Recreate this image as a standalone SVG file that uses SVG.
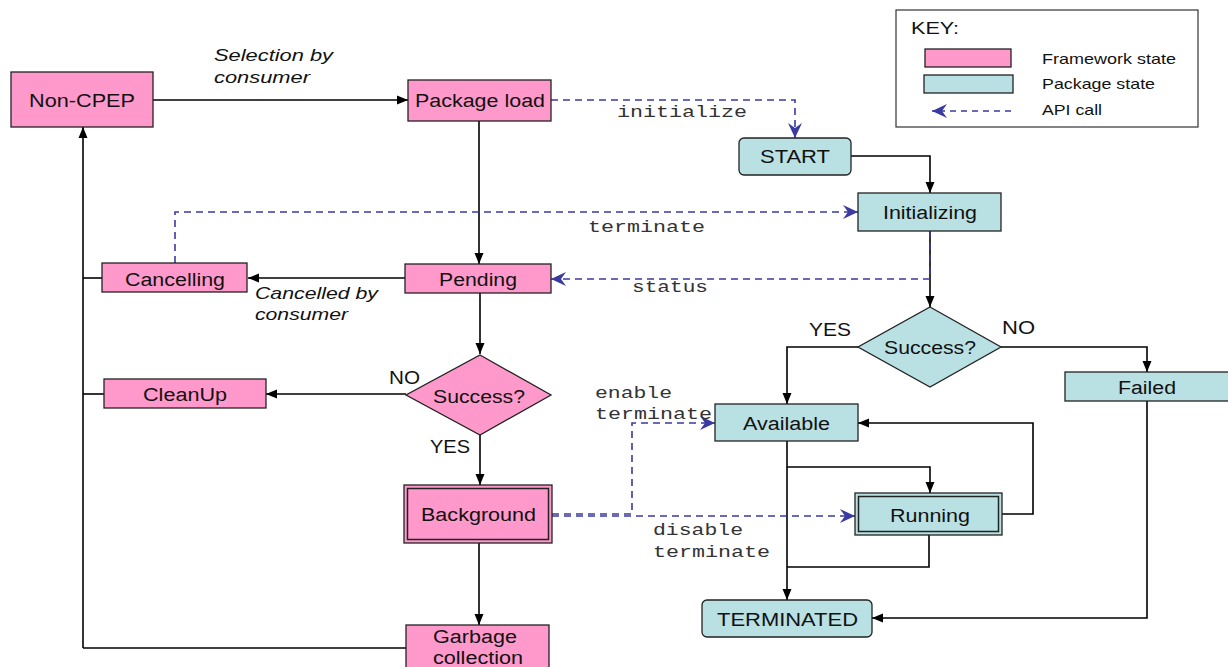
<svg xmlns="http://www.w3.org/2000/svg" width="1228" height="667" viewBox="0 0 1228 667">
<style>
text{font-family:"Liberation Sans",Arial,sans-serif;fill:#111}
.lbl{font-size:18px}
.it{font-size:17px;font-style:italic}
.mono{font-family:"Liberation Mono","Courier New",monospace;font-size:16px;fill:#333}
.key{font-size:15px}
.fw{fill:#FF99CC;stroke:#222;stroke-width:1.3}
.pk{fill:#B9E0E3;stroke:#222;stroke-width:1.3}
.ln{fill:none;stroke:#000;stroke-width:1.6}
.api{fill:none;stroke:#3A3AA0;stroke-width:1.6;stroke-dasharray:7,5}
</style>
<defs>
<marker id="ah" markerUnits="userSpaceOnUse" markerWidth="12" markerHeight="10" refX="11" refY="5" orient="auto">
<path d="M0,0.5 L11,5 L0,9.5 z" fill="#000"/>
</marker>
<marker id="ab" markerUnits="userSpaceOnUse" markerWidth="16" markerHeight="14" refX="15" refY="7" orient="auto">
<path d="M0,0 L15,7 L0,14 L5,7 z" fill="#3A3AA0"/>
</marker>
</defs>
<rect width="1228" height="667" fill="#fff"/>

<g id="key">
<rect x="896" y="10" width="302" height="117" fill="#fff" stroke="#333" stroke-width="1.2"/>
<text class="key" x="911" y="34" style="font-size:16px" textLength="48" lengthAdjust="spacingAndGlyphs">KEY:</text>
<rect class="fw" x="925" y="49" width="86" height="18"/>
<rect class="pk" x="924" y="75" width="89" height="18"/>
<path class="api" d="M1011,111 H932" marker-end="url(#ab)" style="stroke-dasharray:6,5"/>
<text class="key" x="1042" y="64" textLength="134" lengthAdjust="spacingAndGlyphs">Framework state</text>
<text class="key" x="1042" y="89" textLength="113" lengthAdjust="spacingAndGlyphs">Package state</text>
<text class="key" x="1042" y="115" textLength="60" lengthAdjust="spacingAndGlyphs">API call</text>
</g>

<g id="connectors">
<path class="ln" d="M153,100 H408" marker-end="url(#ah)"/>
<path class="ln" d="M479,121 V264" marker-end="url(#ah)"/>
<path class="ln" d="M405,278 H248" marker-end="url(#ah)"/>
<path class="ln" d="M102,278 H83"/>
<path class="ln" d="M83,648 V127" marker-end="url(#ah)"/>
<path class="ln" d="M104,394 H83"/>
<path class="ln" d="M480,293 V354" marker-end="url(#ah)"/>
<path class="ln" d="M406,394 H266" marker-end="url(#ah)"/>
<path class="ln" d="M480,435 V485" marker-end="url(#ah)"/>
<path class="ln" d="M479,543 V625" marker-end="url(#ah)"/>
<path class="ln" d="M406,648 H83"/>
<path class="ln" d="M851,156 H930 V193" marker-end="url(#ah)"/>
<path class="ln" d="M930,231 V307" marker-end="url(#ah)"/>
<path class="ln" d="M858,347 H787 V404" marker-end="url(#ah)"/>
<path class="ln" d="M1001,347 H1147 V372" marker-end="url(#ah)"/>
<path class="ln" d="M787,441 V600" marker-end="url(#ah)"/>
<path class="ln" d="M787,467 H930 V493" marker-end="url(#ah)"/>
<path class="ln" d="M1002,514 H1033 V423 H858" marker-end="url(#ah)"/>
<path class="ln" d="M929,535 V567 H787"/>
<path class="ln" d="M1147,401 V618 H872" marker-end="url(#ah)"/>

<path class="api" d="M551,100 H795 V138" marker-end="url(#ab)"/>
<path class="api" d="M175,263 V212 H858" marker-end="url(#ab)"/>
<path class="api" d="M930,231 V279 H551" marker-end="url(#ab)"/>
<path class="api" d="M552,514 H632 V423 H715" marker-end="url(#ab)"/>
<path class="api" d="M552,516 H855" marker-end="url(#ab)"/>

<text class="it" x="214" y="61" textLength="119" lengthAdjust="spacingAndGlyphs">Selection by</text>
<text class="it" x="214" y="83" textLength="96" lengthAdjust="spacingAndGlyphs">consumer</text>
<text class="it" x="255" y="299" textLength="123" lengthAdjust="spacingAndGlyphs">Cancelled by</text>
<text class="it" x="255" y="320" textLength="93" lengthAdjust="spacingAndGlyphs">consumer</text>
<text class="mono" x="617" y="117" textLength="130" lengthAdjust="spacingAndGlyphs">initialize</text>
<text class="mono" x="588" y="232" textLength="117" lengthAdjust="spacingAndGlyphs">terminate</text>
<text class="mono" x="632" y="292" textLength="76" lengthAdjust="spacingAndGlyphs">status</text>
<text class="mono" x="595" y="398" textLength="77" lengthAdjust="spacingAndGlyphs">enable</text>
<text class="mono" x="595" y="419" textLength="117" lengthAdjust="spacingAndGlyphs">terminate</text>
<text class="mono" x="653" y="535" textLength="90" lengthAdjust="spacingAndGlyphs">disable</text>
<text class="mono" x="653" y="557" textLength="117" lengthAdjust="spacingAndGlyphs">terminate</text>
<text class="lbl" x="389" y="384" textLength="31" lengthAdjust="spacingAndGlyphs">NO</text>
<text class="lbl" x="430" y="453" textLength="40" lengthAdjust="spacingAndGlyphs">YES</text>
<text class="lbl" x="809" y="336" textLength="42" lengthAdjust="spacingAndGlyphs">YES</text>
<text class="lbl" x="1002" y="334" textLength="33" lengthAdjust="spacingAndGlyphs">NO</text>
</g>

<g id="non-cpep">
<rect class="fw" x="11" y="72" width="142" height="55"/>
<text class="lbl" x="29" y="107" style="font-size:19px" textLength="106" lengthAdjust="spacingAndGlyphs">Non-CPEP</text>
</g>
<g id="package-load">
<rect class="fw" x="408" y="80" width="143" height="41"/>
<text class="lbl" x="415" y="107" textLength="130" lengthAdjust="spacingAndGlyphs">Package load</text>
</g>
<g id="cancelling">
<rect class="fw" x="102" y="263" width="145" height="29"/>
<text class="lbl" x="125" y="286" textLength="100" lengthAdjust="spacingAndGlyphs">Cancelling</text>
</g>
<g id="pending">
<rect class="fw" x="405" y="264" width="146" height="29"/>
<text class="lbl" x="439" y="286" textLength="78" lengthAdjust="spacingAndGlyphs">Pending</text>
</g>
<g id="cleanup">
<rect class="fw" x="104" y="379" width="162" height="29"/>
<text class="lbl" x="143" y="401" textLength="84" lengthAdjust="spacingAndGlyphs">CleanUp</text>
</g>
<g id="success-fw">
<polygon class="fw" points="480,355 551,395 480,435 406,395"/>
<text class="lbl" x="433" y="403" textLength="92" lengthAdjust="spacingAndGlyphs">Success?</text>
</g>
<g id="background">
<rect class="fw" x="404" y="485" width="148" height="58"/>
<rect x="407.5" y="488.5" width="141" height="51" fill="none" stroke="#222" stroke-width="1.5"/>
<text class="lbl" x="421" y="521" textLength="115" lengthAdjust="spacingAndGlyphs">Background</text>
</g>
<g id="garbage">
<rect class="fw" x="406" y="625" width="143" height="50"/>
<text class="lbl" x="433" y="643" textLength="84" lengthAdjust="spacingAndGlyphs">Garbage</text>
<text class="lbl" x="433" y="664" textLength="90" lengthAdjust="spacingAndGlyphs">collection</text>
</g>
<g id="start">
<rect class="pk" x="739" y="138" width="112" height="37" rx="5"/>
<text class="lbl" x="760" y="163" textLength="70" lengthAdjust="spacingAndGlyphs">START</text>
</g>
<g id="initializing">
<rect class="pk" x="858" y="193" width="143" height="38"/>
<text class="lbl" x="883" y="219" textLength="94" lengthAdjust="spacingAndGlyphs">Initializing</text>
</g>
<g id="success-pk">
<polygon class="pk" points="930,307 1001,347 930,387 858,347"/>
<text class="lbl" x="884" y="354" textLength="92" lengthAdjust="spacingAndGlyphs">Success?</text>
</g>
<g id="failed">
<rect class="pk" x="1065" y="372" width="165" height="29"/>
<text class="lbl" x="1118" y="394" textLength="58" lengthAdjust="spacingAndGlyphs">Failed</text>
</g>
<g id="available">
<rect class="pk" x="715" y="404" width="143" height="37"/>
<text class="lbl" x="743" y="430" textLength="87" lengthAdjust="spacingAndGlyphs">Available</text>
</g>
<g id="running">
<rect class="pk" x="855" y="493" width="147" height="42"/>
<rect x="858.5" y="496.5" width="140" height="35" fill="none" stroke="#222" stroke-width="1.5"/>
<text class="lbl" x="890" y="522" textLength="80" lengthAdjust="spacingAndGlyphs">Running</text>
</g>
<g id="terminated">
<rect class="pk" x="702" y="600" width="170" height="37" rx="5"/>
<text class="lbl" x="717" y="626" textLength="141" lengthAdjust="spacingAndGlyphs">TERMINATED</text>
</g>
</svg>
